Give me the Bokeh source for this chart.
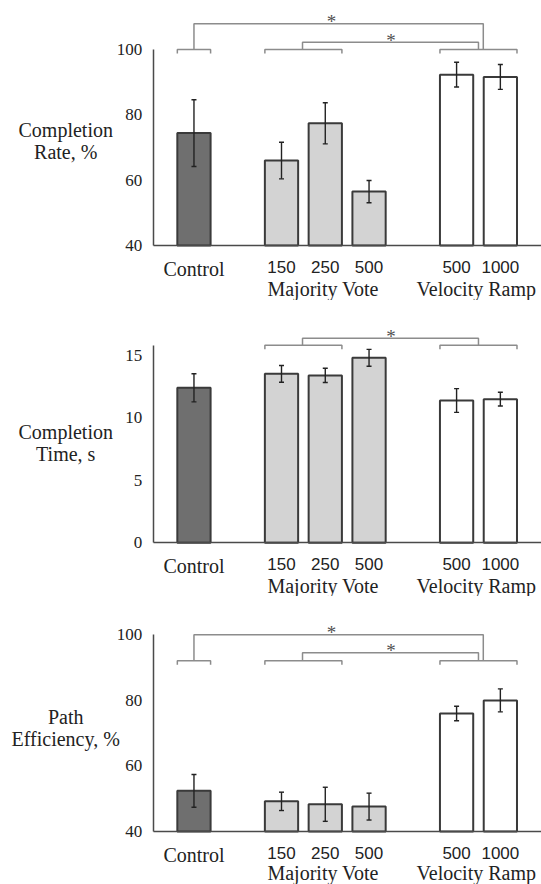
from bokeh.plotting import figure
from bokeh.layouts import column
from bokeh.models import Range1d, FixedTicker, Whisker, TeeHead, ColumnDataSource
from bokeh.core.properties import value
from bokeh.embed import file_html
from bokeh.resources import INLINE

# ---------------- data ----------------
conditions = ["Control", "150", "250", "500", "500", "1000"]
groups = ["Control", "Majority Vote", "Majority Vote", "Majority Vote",
          "Velocity Ramp", "Velocity Ramp"]

completion_rate = [74.4, 66.0, 77.4, 56.5, 92.3, 91.6]
completion_rate_err = [10.2, 5.6, 6.3, 3.4, 3.8, 3.8]

completion_time = [12.41, 13.53, 13.40, 14.81, 11.39, 11.50]
completion_time_err = [1.13, 0.67, 0.57, 0.68, 0.95, 0.55]

path_efficiency = [52.4, 49.2, 48.3, 47.6, 76.0, 80.0]
path_efficiency_err = [5.0, 2.8, 5.2, 4.1, 2.2, 3.5]

# ---------------- styling ----------------
SERIF = "Liberation Serif"
SANS = "Liberation Sans"
TXT = "#222222"
group_colors = {"Control": "#6f6f6f", "Majority Vote": "#d3d3d3", "Velocity Ramp": "#ffffff"}
BRACKET = "#8c8c8c"

group_names = list(dict.fromkeys(groups))
xs = [i + group_names.index(g) for i, g in enumerate(groups)]
BAR_W = 0.76
HALF = BAR_W / 2
X_LEFT, X_RIGHT = -4.42, 7.94      # full figure width in data units
AXIS_X = -0.93                     # where the y axis sits

# bracket members (indices of bars under each bracket)
control_members = [0]
mv_members = [1, 2]
vr_members = [4, 5]


def span(members):
    return xs[members[0]] - HALF, xs[members[-1]] + HALF


def centre(members):
    a, b = span(members)
    return (a + b) / 2


def make_panel(vals, errs, y0, ppu, height, top_px, yticks, axis_top,
               title_lines, title_mid, bracket_base, connectors, brackets,
               group_off=43):
    y_lo = y0 - (height - top_px) / ppu
    y_hi = y0 + top_px / ppu
    p = figure(width=541, height=height, output_backend="svg",
               toolbar_location=None, x_range=Range1d(X_LEFT, X_RIGHT),
               y_range=Range1d(y_lo, y_hi), min_border=0)
    p.outline_line_color = None
    p.grid.visible = False
    p.background_fill_color = "white"

    src = ColumnDataSource(dict(
        x=xs, top=vals, color=[group_colors[g] for g in groups],
        upper=[v + e for v, e in zip(vals, errs)],
        lower=[v - e for v, e in zip(vals, errs)]))
    p.vbar(x="x", top="top", bottom=y0, width=BAR_W, fill_color="color",
           line_color="#3a3a3a", line_width=2, source=src)
    wh = Whisker(base="x", upper="upper", lower="lower", source=src,
                 line_color=TXT, line_width=1.4, level="overlay",
                 upper_head=TeeHead(size=5, line_color=TXT, line_width=1.4),
                 lower_head=TeeHead(size=5, line_color=TXT, line_width=1.4))
    p.add_layout(wh)

    # significance brackets
    tick = 4 / ppu
    mx, my = [], []
    for members in brackets:
        a, b = span(members)
        mx.append([a, a, b, b])
        my.append([bracket_base - tick, bracket_base, bracket_base, bracket_base - tick])
    star_x, star_y = [], []
    for (xa, xb, h, sx) in connectors:
        mx.append([xa, xa, xb, xb])
        my.append([bracket_base, h, h, bracket_base])
        star_x.append(sx)
        star_y.append(h + 2 / ppu)
    p.multi_line(xs=mx, ys=my, line_color=BRACKET, line_width=1.5)
    p.text(x=star_x, y=star_y, text=["*"] * len(star_x), text_font=value(SERIF),
           text_font_size="19px", text_align="center", text_baseline="alphabetic",
           text_color="#505050")

    # axes
    yax = p.yaxis[0]
    yax.fixed_location = AXIS_X
    yax.ticker = FixedTicker(ticks=yticks)
    yax.bounds = (y0, axis_top)
    yax.major_tick_line_color = None
    yax.minor_tick_line_color = None
    yax.axis_line_color = "#4a4a4a"
    yax.axis_line_width = 1.5
    yax.major_label_text_font = SERIF
    yax.major_label_text_font_size = "17px"
    yax.major_label_text_color = TXT
    yax.major_label_standoff = 5

    xax = p.xaxis[0]
    xax.fixed_location = y0
    xax.bounds = (AXIS_X, X_RIGHT)
    xax.ticker = FixedTicker(ticks=xs[1:])
    xax.major_label_overrides = {x: c for x, c in zip(xs[1:], conditions[1:])}
    xax.major_tick_line_color = None
    xax.minor_tick_line_color = None
    xax.axis_line_color = "#4a4a4a"
    xax.axis_line_width = 1.5
    xax.major_label_text_font = SANS
    xax.major_label_text_font_size = "17px"
    xax.major_label_text_color = TXT
    xax.major_label_standoff = 9

    # Control label & group labels (serif)
    lab_x = [xs[0]]
    lab_y = [y0 - 23 / ppu]
    lab_t = [conditions[0]]
    for g in group_names[1:]:
        gx = [x for x, gg in zip(xs, groups) if gg == g]
        lab_x.append(sum(gx) / len(gx) - 0.05)
        lab_y.append(y0 - group_off / ppu)
        lab_t.append(g)
    # y title lines
    for k, line in enumerate(title_lines):
        lab_x.append(-2.93)
        lab_y.append(title_mid + (11 - 22 * k) / ppu)
        lab_t.append(line)
    p.text(x=lab_x, y=lab_y, text=lab_t, text_font=value(SERIF), text_font_size="20px",
           text_align="center", text_baseline="middle", text_color=TXT)
    return p


c_ctrl = centre(control_members)
c_mv = centre(mv_members)
c_vr = centre(vr_members)

p1 = make_panel(completion_rate, completion_rate_err, 40, 3.267, 300, 245,
                [40, 60, 80, 100], 100, ["Completion", "Rate, %"], 71.9, 100,
                [(c_ctrl, c_vr + 0.11, 107.9, 3.14), (c_mv - 0.02, c_vr, 102.2, 4.5)],
                [control_members, mv_members, vr_members])
p2 = make_panel(completion_time, completion_time_err, 0, 12.49, 296, 242.3,
                [0, 5, 10, 15], 15.81, ["Completion", "Time, s"], 8.0, 15.81,
                [(c_mv - 0.02, c_vr, 16.38, 4.5)],
                [mv_members, vr_members])
p3 = make_panel(path_efficiency, path_efficiency_err, 40, 3.278, 288, 235,
                [40, 60, 80, 100], 100, ["Path", "Efficiency, %"], 71.7, 92.07,
                [(c_ctrl, c_vr + 0.11, 100.0, 3.14), (c_mv - 0.02, c_vr, 94.5, 4.5)],
                [control_members, mv_members, vr_members], group_off=41)

layout = column(p1, p2, p3, spacing=0)
open("out.html", "w").write(file_html(layout, INLINE))
